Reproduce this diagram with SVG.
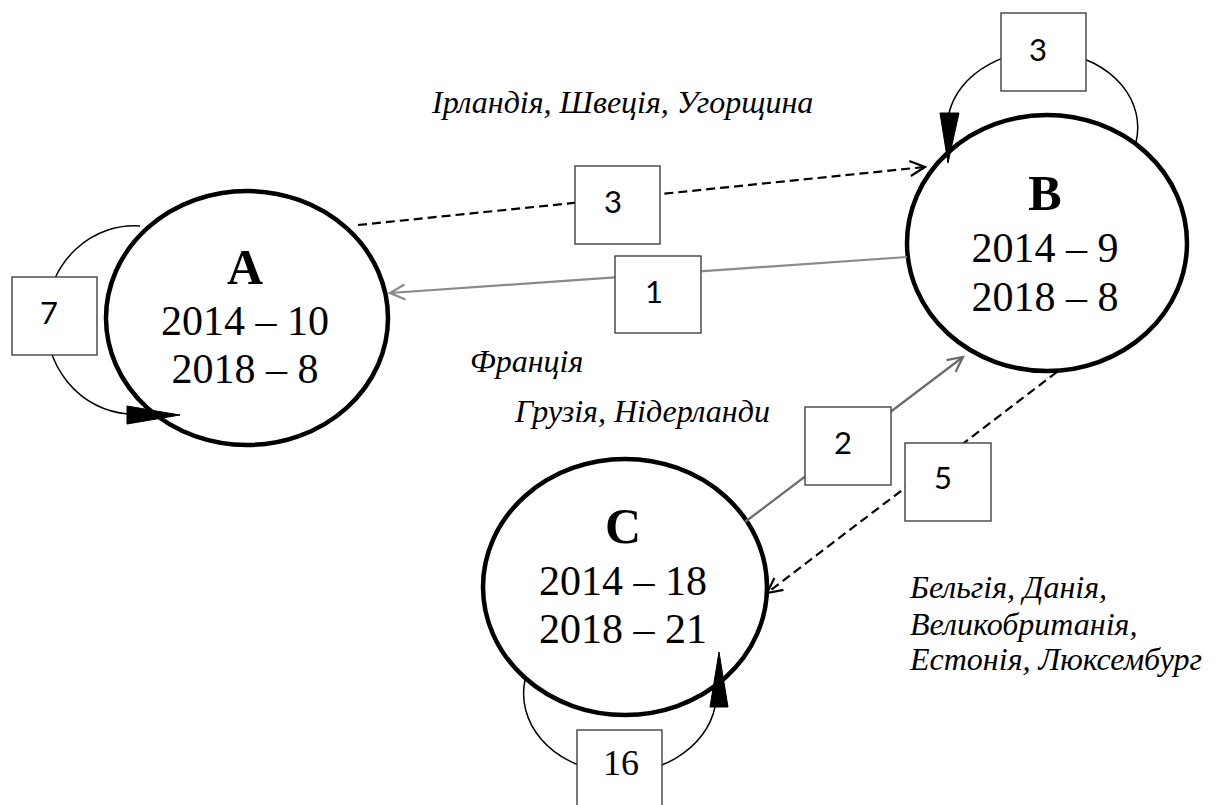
<svg xmlns="http://www.w3.org/2000/svg" width="1217" height="805" viewBox="0 0 1217 805">
  <style>
    .node { fill: none; stroke: #000; stroke-width: 4.5; }
    .title { font-family: "Liberation Serif", "Times New Roman", serif; font-weight: bold; font-size: 50px; text-anchor: middle; fill: #000; }
    .val { font-family: "Liberation Serif", "Times New Roman", serif; font-size: 42px; text-anchor: middle; fill: #000; }
    .dash { fill: none; stroke: #000; stroke-width: 2.2; stroke-dasharray: 9 5; }
    .grey1 { fill: none; stroke: #8a8a8a; stroke-width: 2.2; }
    .grey2 { fill: none; stroke: #6a6a6a; stroke-width: 2.2; }
    .loop { fill: none; stroke: #000; stroke-width: 1.5; }
    .head { fill: #000; stroke: #000; stroke-width: 1; stroke-linejoin: miter; }
    .box { fill: #fff; stroke: #404040; stroke-width: 1.4; }
    .num { font-family: Lato, "Liberation Sans", sans-serif; font-size: 31px; text-anchor: middle; fill: #000; }
    .numserif { font-family: "Liberation Serif", "Times New Roman", serif; font-size: 36px; text-anchor: middle; fill: #000; }
    .note { font-family: "Liberation Serif", "Times New Roman", serif; font-style: italic; font-size: 32px; fill: #000; }
  </style>
  <defs>
    <marker id="openBlack" markerUnits="userSpaceOnUse" markerWidth="18" markerHeight="18" refX="16" refY="9" orient="auto" overflow="visible">
      <path d="M1,1.5 L16,9 L1,16.5" fill="none" stroke="#000" stroke-width="2.2"/>
    </marker>
    <marker id="openGrey1" markerUnits="userSpaceOnUse" markerWidth="18" markerHeight="18" refX="16" refY="9" orient="auto" overflow="visible">
      <path d="M1,1.5 L16,9 L1,16.5" fill="none" stroke="#8a8a8a" stroke-width="2.2"/>
    </marker>
    <marker id="openGrey2" markerUnits="userSpaceOnUse" markerWidth="18" markerHeight="18" refX="16" refY="9" orient="auto" overflow="visible">
      <path d="M1,1.5 L16,9 L1,16.5" fill="none" stroke="#6a6a6a" stroke-width="2.2"/>
    </marker>
  </defs>

  <rect width="1217" height="805" fill="#fff"/>

  <!-- Nodes -->
  <g id="node-A">
    <ellipse class="node" cx="247" cy="318" rx="141" ry="127"/>
    <text class="title" x="245" y="284">A</text>
    <text class="val" x="245" y="335">2014 – 10</text>
    <text class="val" x="245" y="383">2018 – 8</text>
  </g>
  <g id="node-B">
    <ellipse class="node" cx="1047" cy="243" rx="140" ry="128"/>
    <text class="title" x="1045" y="210">B</text>
    <text class="val" x="1045" y="262">2014 – 9</text>
    <text class="val" x="1045" y="311">2018 – 8</text>
  </g>
  <g id="node-C">
    <ellipse class="node" cx="625" cy="587" rx="142" ry="128"/>
    <text class="title" x="623" y="543">C</text>
    <text class="val" x="623" y="595">2014 – 18</text>
    <text class="val" x="623" y="643">2018 – 21</text>
  </g>

  <!-- Connectors -->
  <g id="connectors">
    <!-- A to B -->
    <path class="dash" d="M358,225 L925,167" marker-end="url(#openBlack)"/>
    <!-- B to A -->
    <path class="grey1" d="M907,257 L390,293" marker-end="url(#openGrey1)"/>
    <!-- C to B -->
    <path class="grey2" d="M745,522 L963,357" marker-end="url(#openGrey2)"/>
    <!-- B to C -->
    <path class="dash" d="M1057,372 L767,593" marker-end="url(#openBlack)"/>

    <!-- self loops -->
    <path class="loop" d="M140,226 A88,94 0 0 0 128,414"/>
    <polygon class="head" points="127,406 180,415 127,424"/>

    <path class="loop" d="M949,113 A95,76 0 1 1 1136,142"/>
    <polygon class="head" points="940,113 959,113 948,163"/>

    <path class="loop" d="M525,680 A96,79 0 0 0 715,707"/>
    <polygon class="head" points="710,707 728,707 719,652"/>
  </g>

  <!-- Edge counts -->
  <g id="label-AB">
    <rect class="box" x="575" y="166" width="85" height="78"/>
    <text class="num" x="613" y="213">3</text>
  </g>
  <g id="label-BA">
    <rect class="box" x="615" y="256" width="86" height="77"/>
    <text class="num" x="654" y="303">1</text>
  </g>
  <g id="label-CB">
    <rect class="box" x="805" y="407" width="86" height="78"/>
    <text class="num" x="843" y="454">2</text>
  </g>
  <g id="label-BC">
    <rect class="box" x="905" y="443" width="86" height="78"/>
    <text class="num" x="943" y="489">5</text>
  </g>
  <g id="label-AA">
    <rect class="box" x="12" y="277" width="85" height="78"/>
    <text class="num" x="49" y="324">7</text>
  </g>
  <g id="label-BB">
    <rect class="box" x="1001" y="13" width="85" height="78"/>
    <text class="num" x="1038" y="61">3</text>
  </g>
  <g id="label-CC">
    <rect class="box" x="577" y="730" width="85" height="78"/>
    <text class="numserif" x="621" y="775">16</text>
  </g>

  <!-- Country notes -->
  <g id="notes">
    <text class="note" x="432" y="113">Ірландія, Швеція, Угорщина</text>
    <text class="note" x="470" y="372">Франція</text>
    <text class="note" x="515" y="422">Грузія, Нідерланди</text>
    <text class="note" x="910" y="598">Бельгія, Данія,</text>
    <text class="note" x="910" y="635">Великобританія,</text>
    <text class="note" x="910" y="670">Естонія, Люксембург</text>
  </g>
</svg>
